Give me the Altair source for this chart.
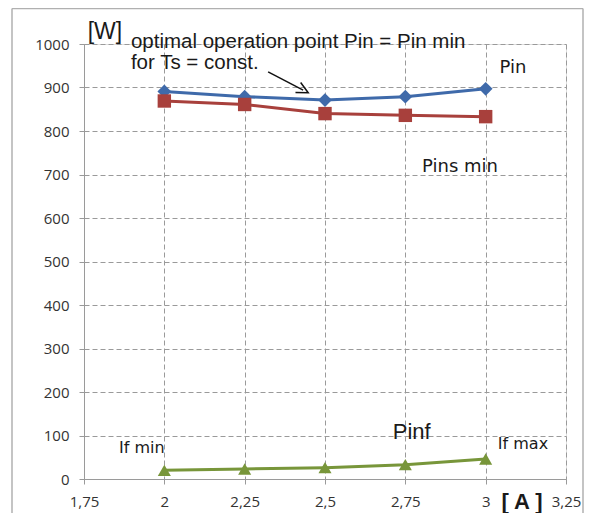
import altair as alt
import pandas as pd

# ---- data ----
current_a = [2, 2.25, 2.5, 2.75, 3]
pin_w = [891, 879, 871, 879, 897]
pins_min_w = [869, 861, 840, 836, 833]
pinf_w = [20, 23, 26, 33, 46]

series_names = ["Pin", "Pins min", "Pinf"]
series_colors = ["#3F6AAA", "#A8403C", "#78963A"]
series_shapes = ["diamond", "square", "triangle-up"]
series_sizes = [190, 170, 210]

x_ticks = [1.75, 2, 2.25, 2.5, 2.75, 3, 3.25]
y_ticks = [0, 100, 200, 300, 400, 500, 600, 700, 800, 900, 1000]

label_texts = ["[W]", "Pin", "Pins min", "Pinf", "If min", "If max", "[ A ]"]
label_x = [1.815, 3.085, 2.92, 2.77, 1.93, 3.116, 3.113]
label_y = [1028, 945, 717, 107, 71, 80, -53]
label_fonts = ["Liberation Sans", "DejaVu Sans", "DejaVu Sans", "Liberation Sans",
               "DejaVu Sans", "DejaVu Sans", "Liberation Sans"]
label_sizes = [23, 18, 18, 22, 16, 16, 22]
label_weights = ["normal", "normal", "normal", "normal", "normal", "normal", "bold"]

annot_texts = ["optimal operation point Pin = Pin min", "for Ts = const."]
annot_x = [1.896, 1.896]
annot_y = [1004, 956]

arrow_from = (2.323, 936)
arrow_to = (2.432, 894)

rows = []
for name, vals in zip(series_names, [pin_w, pins_min_w, pinf_w]):
    for x, v in zip(current_a, vals):
        rows.append({"series": name, "I": x, "P": v})
df = pd.DataFrame(rows)

xscale = alt.Scale(domain=[1.75, 3.25], nice=False, zero=False)
yscale = alt.Scale(domain=[0, 1000], nice=False)

color_scale = alt.Scale(domain=series_names, range=series_colors)
shape_scale = alt.Scale(domain=series_names, range=series_shapes)
size_scale = alt.Scale(domain=series_names, range=series_sizes)

x_axis = alt.Axis(
    values=x_ticks, title=None, grid=True, gridDash=[5, 3], gridColor="#9a9a9a",
    domainColor="#9a9a9a", tickColor="#9a9a9a", tickSize=5, labelPadding=10,
    labelFont="Open Sans", labelFontSize=15, labelColor="#333333",
    labelExpr="replace(toString(datum.value), '.', ',')", labelFlush=False,
)
y_axis = alt.Axis(
    values=y_ticks, title=None, grid=True, gridDash=[5, 3], gridColor="#9a9a9a",
    domainColor="#9a9a9a", tickColor="#9a9a9a", tickSize=5, labelPadding=10,
    labelFont="Open Sans", labelFontSize=15, labelColor="#333333", format="d",
)

lines = alt.Chart(df).mark_line(strokeWidth=3).encode(
    x=alt.X("I:Q", scale=xscale, axis=x_axis),
    y=alt.Y("P:Q", scale=yscale, axis=y_axis),
    color=alt.Color("series:N", scale=color_scale, legend=None),
    detail="series:N",
)

points = alt.Chart(df).mark_point(filled=True, opacity=1).encode(
    x=alt.X("I:Q", scale=xscale),
    y=alt.Y("P:Q", scale=yscale),
    color=alt.Color("series:N", scale=color_scale, legend=None),
    shape=alt.Shape("series:N", scale=shape_scale, legend=None),
    size=alt.Size("series:N", scale=size_scale, legend=None),
)

label_layers = []
for t, lx, ly, f, s, w in zip(label_texts, label_x, label_y, label_fonts, label_sizes, label_weights):
    label_layers.append(
        alt.Chart(pd.DataFrame({"text": [t], "I": [lx], "P": [ly]})).mark_text(
            color="#1a1a1a", baseline="middle", align="center", font=f, fontSize=s, fontWeight=w
        ).encode(x=alt.X("I:Q", scale=xscale), y=alt.Y("P:Q", scale=yscale), text="text:N")
    )

annot = alt.Chart(pd.DataFrame({"text": annot_texts, "I": annot_x, "P": annot_y})).mark_text(
    font="Liberation Sans", fontSize=20.5, color="#1a1a1a", align="left", baseline="middle"
).encode(
    x=alt.X("I:Q", scale=xscale),
    y=alt.Y("P:Q", scale=yscale),
    text="text:N",
)

arrow = alt.Chart(pd.DataFrame({"I": [arrow_from[0]], "P": [arrow_from[1]],
                                "I2": [arrow_to[0]], "P2": [arrow_to[1]]})).mark_rule(
    color="#111111", strokeWidth=1.5).encode(
    x=alt.X("I:Q", scale=xscale), y=alt.Y("P:Q", scale=yscale),
    x2="I2:Q", y2="P2:Q",
)
arrow_head = alt.Chart(pd.DataFrame({"I": [arrow_to[0]], "P": [arrow_to[1]]})).mark_point(
    shape="M -1 1 L 0 -1 L 1 1", filled=False, color="#111111", strokeWidth=1.5,
    size=130, angle=117, opacity=1,
).encode(x=alt.X("I:Q", scale=xscale), y=alt.Y("P:Q", scale=yscale))

# outer frame (left, top, right) of the picture
one = pd.DataFrame({"a": [0]})
frame_left = alt.Chart(one).mark_rule(color="#b0b0b0", strokeWidth=1.5).encode(
    x=alt.value(-72), y=alt.value(-35.5), y2=alt.value(469))
frame_top = alt.Chart(one).mark_rule(color="#b0b0b0", strokeWidth=1.5).encode(
    x=alt.value(-72), x2=alt.value(499), y=alt.value(-35.5))
frame_right = alt.Chart(one).mark_rule(color="#b0b0b0", strokeWidth=1.5).encode(
    x=alt.value(499), y=alt.value(-35.5), y2=alt.value(469))

chart = alt.layer(
    lines, points, *label_layers, annot, arrow, arrow_head, frame_left, frame_top, frame_right
).properties(
    width=482, height=435, autosize="none",
    padding={"left": 76, "top": 36, "right": 18, "bottom": 34},
).configure_view(stroke=None).configure(background="white")

chart.save("out.html", embed_options={"renderer": "svg", "actions": False})
